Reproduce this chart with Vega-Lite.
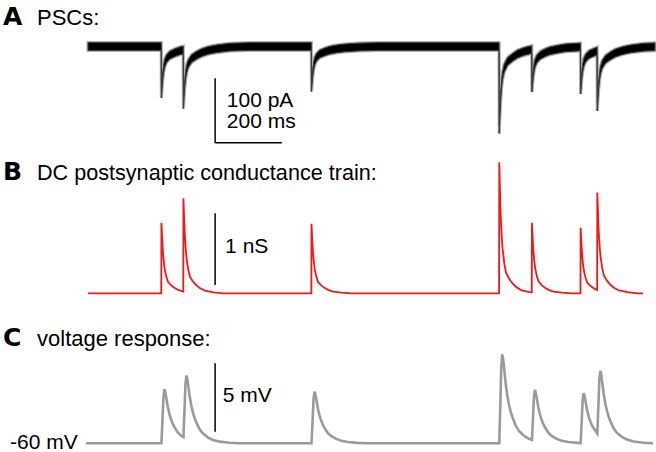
{
  "$schema": "https://vega.github.io/schema/vega-lite/v6.json",
  "padding": 0,
  "spacing": 0,
  "background": "white",
  "config": {"view": {"stroke": null}, "font": "Liberation Sans"},
  "resolve": {"scale": {"x": "independent", "y": "independent"}},
  "datasets": {
    "psc": [
      {"t":0,"lo":-6,"hi":6},{"t":219.5,"lo":-6,"hi":6},{"t":220,"lo":-80,"hi":-68},{"t":222,"lo":-65.2,"hi":-53.2},{"t":224,"lo":-51.9,"hi":-39.9},{"t":227,"lo":-39.3,"hi":-27.3},{"t":230,"lo":-31.9,"hi":-19.9},{"t":235,"lo":-25.2,"hi":-13.2},{"t":245,"lo":-19.3,"hi":-7.3},{"t":260,"lo":-15.6,"hi":-3.6},{"t":275,"lo":-12.7,"hi":-0.7},{"t":285.5,"lo":-11.5,"hi":0.5},
      {"t":286,"lo":-96.5,"hi":-84.5},{"t":288,"lo":-79.1,"hi":-67.1},{"t":290,"lo":-63.7,"hi":-51.7},{"t":293,"lo":-48.9,"hi":-36.9},{"t":296,"lo":-40.2,"hi":-28.2},{"t":301,"lo":-32.1,"hi":-20.1},{"t":311,"lo":-24.6,"hi":-12.6},{"t":326,"lo":-19.4,"hi":-7.4},{"t":341,"lo":-15.4,"hi":-3.4},{"t":361,"lo":-12,"hi":0},{"t":386,"lo":-9.5,"hi":2.5},{"t":426,"lo":-7,"hi":5},{"t":486,"lo":-6,"hi":6},{"t":669.5,"lo":-6,"hi":6},
      {"t":670,"lo":-70,"hi":-58},{"t":672,"lo":-57.2,"hi":-45.2},{"t":674,"lo":-45.7,"hi":-33.7},{"t":677,"lo":-34.8,"hi":-22.8},{"t":680,"lo":-28.4,"hi":-16.4},{"t":685,"lo":-22.6,"hi":-10.6},{"t":695,"lo":-17.5,"hi":-5.5},{"t":710,"lo":-14.3,"hi":-2.3},{"t":725,"lo":-11.8,"hi":0.2},{"t":745,"lo":-9.8,"hi":2.2},{"t":770,"lo":-8.2,"hi":3.8},{"t":810,"lo":-6.8,"hi":5.2},{"t":870,"lo":-6,"hi":6},{"t":1232.5,"lo":-6,"hi":6},
      {"t":1233,"lo":-135,"hi":-123},{"t":1235,"lo":-109.2,"hi":-97.2},{"t":1237,"lo":-86,"hi":-74},{"t":1240,"lo":-64,"hi":-52},{"t":1243,"lo":-51.2,"hi":-39.2},{"t":1248,"lo":-39.5,"hi":-27.5},{"t":1258,"lo":-29.2,"hi":-17.2},{"t":1273,"lo":-22.8,"hi":-10.8},{"t":1288,"lo":-17.6,"hi":-5.6},{"t":1308,"lo":-13.7,"hi":-1.7},{"t":1330.5,"lo":-10.8,"hi":1.2},
      {"t":1331,"lo":-70.8,"hi":-58.8},{"t":1333,"lo":-58.5,"hi":-46.5},{"t":1335,"lo":-47.6,"hi":-35.6},{"t":1338,"lo":-37.2,"hi":-25.2},{"t":1341,"lo":-31,"hi":-19},{"t":1346,"lo":-25.2,"hi":-13.2},{"t":1356,"lo":-19.6,"hi":-7.6},{"t":1371,"lo":-15.5,"hi":-3.5},{"t":1386,"lo":-12.6,"hi":-0.6},{"t":1406,"lo":-10.4,"hi":1.6},{"t":1431,"lo":-8.1,"hi":3.9},{"t":1476.5,"lo":-6.7,"hi":5.3},
      {"t":1477,"lo":-73.7,"hi":-61.7},{"t":1479,"lo":-60.2,"hi":-48.2},{"t":1481,"lo":-48.1,"hi":-36.1},{"t":1484,"lo":-36.8,"hi":-24.8},{"t":1487,"lo":-30,"hi":-18},{"t":1492,"lo":-23.9,"hi":-11.9},{"t":1502,"lo":-18.5,"hi":-6.5},{"t":1517,"lo":-15,"hi":-3},{"t":1526.5,"lo":-13,"hi":-1},
      {"t":1527,"lo":-100,"hi":-88},{"t":1529,"lo":-82.2,"hi":-70.2},{"t":1531,"lo":-66.1,"hi":-54.1},{"t":1534,"lo":-51,"hi":-39},{"t":1537,"lo":-42,"hi":-30},{"t":1542,"lo":-33.6,"hi":-21.6},{"t":1552,"lo":-25.7,"hi":-13.7},{"t":1567,"lo":-20.3,"hi":-8.3},{"t":1582,"lo":-15.9,"hi":-3.9},{"t":1602,"lo":-12.5,"hi":-0.5},{"t":1627,"lo":-9.7,"hi":2.3},{"t":1667,"lo":-7.1,"hi":4.9},{"t":1700,"lo":-6.4,"hi":5.6}
    ],
    "cond": [
      {"t":0,"g":0},{"t":219.5,"g":0},{"t":220,"g":0.985},{"t":222,"g":0.788},{"t":224,"g":0.611},{"t":227,"g":0.443},{"t":230,"g":0.335},{"t":235,"g":0.227},{"t":240,"g":0.158},{"t":250,"g":0.108},{"t":260,"g":0.074},{"t":270,"g":0.049},{"t":285.5,"g":0.025},
      {"t":286,"g":1.325},{"t":288,"g":1.064},{"t":290,"g":0.829},{"t":293,"g":0.607},{"t":296,"g":0.463},{"t":301,"g":0.318},{"t":306,"g":0.225},{"t":316,"g":0.156},{"t":326,"g":0.108},{"t":336,"g":0.072},{"t":351,"g":0.036},{"t":376,"g":0.013},{"t":406,"g":0},{"t":669.5,"g":0},
      {"t":670,"g":0.97},{"t":672,"g":0.776},{"t":674,"g":0.601},{"t":677,"g":0.437},{"t":680,"g":0.33},{"t":685,"g":0.223},{"t":690,"g":0.155},{"t":700,"g":0.107},{"t":710,"g":0.073},{"t":720,"g":0.049},{"t":735,"g":0.024},{"t":760,"g":0.01},{"t":790,"g":0},{"t":1232.5,"g":0},
      {"t":1233,"g":1.83},{"t":1235,"g":1.464},{"t":1237,"g":1.135},{"t":1240,"g":0.824},{"t":1243,"g":0.622},{"t":1248,"g":0.421},{"t":1253,"g":0.293},{"t":1263,"g":0.201},{"t":1273,"g":0.137},{"t":1283,"g":0.092},{"t":1298,"g":0.046},{"t":1323,"g":0.018},{"t":1330.5,"g":0.014},
      {"t":1331,"g":0.984},{"t":1333,"g":0.789},{"t":1335,"g":0.613},{"t":1338,"g":0.449},{"t":1341,"g":0.342},{"t":1346,"g":0.233},{"t":1351,"g":0.163},{"t":1361,"g":0.111},{"t":1371,"g":0.075},{"t":1381,"g":0.049},{"t":1396,"g":0.024},{"t":1421,"g":0.01},{"t":1451,"g":0},{"t":1476.5,"g":0},
      {"t":1477,"g":0.915},{"t":1479,"g":0.732},{"t":1481,"g":0.567},{"t":1484,"g":0.412},{"t":1487,"g":0.311},{"t":1492,"g":0.21},{"t":1497,"g":0.146},{"t":1507,"g":0.101},{"t":1517,"g":0.069},{"t":1526.5,"g":0.047},
      {"t":1527,"g":1.407},{"t":1529,"g":1.133},{"t":1531,"g":0.886},{"t":1534,"g":0.652},{"t":1537,"g":0.499},{"t":1542,"g":0.345},{"t":1547,"g":0.245},{"t":1557,"g":0.17},{"t":1567,"g":0.116},{"t":1577,"g":0.078},{"t":1592,"g":0.04},{"t":1617,"g":0.016},{"t":1647,"g":0},{"t":1664,"g":0}
    ],
    "volt": [
      {"t":-6,"v":-60},{"t":220,"v":-60},{"t":223,"v":-58.42},{"t":226,"v":-56.64},{"t":229,"v":-56.05},{"t":232,"v":-56.29},{"t":235,"v":-56.72},{"t":239,"v":-57.31},{"t":244,"v":-57.87},{"t":249,"v":-58.26},{"t":254,"v":-58.58},{"t":259,"v":-58.81},{"t":269,"v":-59.21},{"t":279,"v":-59.45},{"t":286,"v":-59.55},
      {"t":289,"v":-57.74},{"t":292,"v":-55.7},{"t":295,"v":-55.04},{"t":298,"v":-55.35},{"t":301,"v":-55.89},{"t":305,"v":-56.62},{"t":310,"v":-57.31},{"t":315,"v":-57.79},{"t":320,"v":-58.19},{"t":325,"v":-58.49},{"t":335,"v":-58.99},{"t":345,"v":-59.29},{"t":360,"v":-59.58},{"t":375,"v":-59.76},{"t":395,"v":-59.88},{"t":425,"v":-59.96},{"t":455,"v":-60},{"t":670,"v":-60},
      {"t":673,"v":-58.49},{"t":676,"v":-56.8},{"t":679,"v":-56.23},{"t":682,"v":-56.46},{"t":685,"v":-56.87},{"t":689,"v":-57.44},{"t":694,"v":-57.96},{"t":699,"v":-58.34},{"t":704,"v":-58.64},{"t":709,"v":-58.87},{"t":719,"v":-59.25},{"t":729,"v":-59.47},{"t":744,"v":-59.68},{"t":759,"v":-59.81},{"t":779,"v":-59.91},{"t":809,"v":-59.97},{"t":839,"v":-60},{"t":1233,"v":-60},
      {"t":1236,"v":-57.4},{"t":1239,"v":-54.47},{"t":1242,"v":-53.5},{"t":1245,"v":-53.89},{"t":1248,"v":-54.6},{"t":1252,"v":-55.58},{"t":1257,"v":-56.49},{"t":1262,"v":-57.14},{"t":1267,"v":-57.66},{"t":1272,"v":-58.05},{"t":1282,"v":-58.7},{"t":1292,"v":-59.09},{"t":1307,"v":-59.45},{"t":1322,"v":-59.67},{"t":1331,"v":-59.75},
      {"t":1334,"v":-58.28},{"t":1337,"v":-56.64},{"t":1340,"v":-56.1},{"t":1343,"v":-56.34},{"t":1346,"v":-56.77},{"t":1350,"v":-57.35},{"t":1355,"v":-57.89},{"t":1360,"v":-58.28},{"t":1365,"v":-58.59},{"t":1370,"v":-58.82},{"t":1380,"v":-59.22},{"t":1390,"v":-59.46},{"t":1405,"v":-59.68},{"t":1420,"v":-59.81},{"t":1440,"v":-59.91},{"t":1470,"v":-59.97},{"t":1477,"v":-59.98},
      {"t":1480,"v":-58.52},{"t":1483,"v":-56.88},{"t":1486,"v":-56.34},{"t":1489,"v":-56.57},{"t":1492,"v":-56.97},{"t":1496,"v":-57.52},{"t":1501,"v":-58.03},{"t":1506,"v":-58.39},{"t":1511,"v":-58.69},{"t":1516,"v":-58.9},{"t":1527,"v":-59.29},
      {"t":1530,"v":-57.44},{"t":1533,"v":-55.35},{"t":1536,"v":-54.7},{"t":1539,"v":-55.03},{"t":1542,"v":-55.59},{"t":1546,"v":-56.36},{"t":1551,"v":-57.1},{"t":1556,"v":-57.62},{"t":1561,"v":-58.05},{"t":1566,"v":-58.38},{"t":1576,"v":-58.9},{"t":1586,"v":-59.24},{"t":1601,"v":-59.53},{"t":1616,"v":-59.73},{"t":1636,"v":-59.87},{"t":1666,"v":-59.96},{"t":1694,"v":-60}
    ]
  },
  "vconcat": [
    {
      "width": 656,
      "height": 150,
      "encoding": {
        "x": {"field": "t", "type": "quantitative", "scale": {"domain": [-264, 1703], "nice": false, "zero": false}, "axis": null}
      },
      "layer": [
        {
          "data": {"name": "psc"},
          "mark": {"type": "area", "color": "#b0b0b0", "stroke": "#b0b0b0", "strokeWidth": 3.2},
          "encoding": {
            "y": {"field": "lo", "type": "quantitative", "scale": {"domain": [-160.7, 72.2], "nice": false, "zero": false}, "axis": null},
            "y2": {"field": "hi"}
          }
        },
        {
          "data": {"name": "psc"},
          "mark": {"type": "area", "color": "#000000", "stroke": "#3a3a3a", "strokeWidth": 1},
          "encoding": {
            "y": {"field": "lo", "type": "quantitative", "axis": null},
            "y2": {"field": "hi"}
          }
        },
        {
          "data": {"values": [{"t": 381, "t2": 381, "v": -49.4, "v2": -149.4}, {"t": 381, "t2": 581, "v": -149.4, "v2": -149.4}]},
          "mark": {"type": "rule", "color": "#000000", "strokeWidth": 1.5},
          "encoding": {"x2": {"field": "t2"}, "y": {"field": "v", "type": "quantitative", "axis": null}, "y2": {"field": "v2"}}
        },
        {
          "data": {"values": [{"t": -255, "v": 33.4, "label": "A"}]},
          "mark": {"type": "text", "align": "left", "baseline": "alphabetic", "font": "DejaVu Sans", "fontWeight": "bold", "fontSize": 25, "color": "#000000"},
          "encoding": {"y": {"field": "v", "type": "quantitative", "axis": null}, "text": {"field": "label"}}
        },
        {
          "data": {"values": [{"t": -153, "v": 33.4, "label": "PSCs:"}]},
          "mark": {"type": "text", "align": "left", "baseline": "alphabetic", "fontSize": 22, "color": "#000000"},
          "encoding": {"y": {"field": "v", "type": "quantitative", "axis": null}, "text": {"field": "label"}}
        },
        {
          "data": {"values": [{"t": 416, "v": -93.5, "label": "100 pA"}, {"t": 416, "v": -127, "label": "200 ms"}]},
          "mark": {"type": "text", "align": "left", "baseline": "alphabetic", "fontSize": 21, "color": "#000000"},
          "encoding": {"y": {"field": "v", "type": "quantitative", "axis": null}, "text": {"field": "label"}}
        }
      ]
    },
    {
      "width": 656,
      "height": 150,
      "encoding": {
        "x": {"field": "t", "type": "quantitative", "scale": {"domain": [-264, 1703], "nice": false, "zero": false}, "axis": null}
      },
      "layer": [
        {
          "data": {"name": "cond"},
          "mark": {"type": "line", "color": "#f01818", "strokeWidth": 1.8},
          "encoding": {
            "y": {"field": "g", "type": "quantitative", "scale": {"domain": [-0.093, 2.0], "nice": false, "zero": false}, "axis": null}
          }
        },
        {
          "data": {"values": [{"t": 381, "v": 0.116, "v2": 1.116}]},
          "mark": {"type": "rule", "color": "#000000", "strokeWidth": 1.5},
          "encoding": {"y": {"field": "v", "type": "quantitative", "axis": null}, "y2": {"field": "v2"}}
        },
        {
          "data": {"values": [{"t": -255, "v": 1.58, "label": "B"}]},
          "mark": {"type": "text", "align": "left", "baseline": "alphabetic", "font": "DejaVu Sans", "fontWeight": "bold", "fontSize": 25, "color": "#000000"},
          "encoding": {"y": {"field": "v", "type": "quantitative", "axis": null}, "text": {"field": "label"}}
        },
        {
          "data": {"values": [{"t": -153, "v": 1.58, "label": "DC postsynaptic conductance train:"}]},
          "mark": {"type": "text", "align": "left", "baseline": "alphabetic", "fontSize": 21.6, "color": "#000000"},
          "encoding": {"y": {"field": "v", "type": "quantitative", "axis": null}, "text": {"field": "label"}}
        },
        {
          "data": {"values": [{"t": 411, "v": 0.562, "label": "1 nS"}]},
          "mark": {"type": "text", "align": "left", "baseline": "alphabetic", "fontSize": 21, "color": "#000000"},
          "encoding": {"y": {"field": "v", "type": "quantitative", "axis": null}, "text": {"field": "label"}}
        }
      ]
    },
    {
      "width": 656,
      "height": 152,
      "encoding": {
        "x": {"field": "t", "type": "quantitative", "scale": {"domain": [-264, 1703], "nice": false, "zero": false}, "axis": null}
      },
      "layer": [
        {
          "data": {"name": "volt"},
          "mark": {"type": "line", "color": "#9a9a9a", "strokeWidth": 2.6},
          "encoding": {
            "y": {"field": "v", "type": "quantitative", "scale": {"domain": [-60.636, -49.525], "nice": false, "zero": false}, "axis": null}
          }
        },
        {
          "data": {"values": [{"t": 381, "v": -59.15, "v2": -54.15}]},
          "mark": {"type": "rule", "color": "#000000", "strokeWidth": 1.5},
          "encoding": {"y": {"field": "v", "type": "quantitative", "axis": null}, "y2": {"field": "v2"}}
        },
        {
          "data": {"values": [{"t": -255, "v": -52.89, "label": "C"}]},
          "mark": {"type": "text", "align": "left", "baseline": "alphabetic", "font": "DejaVu Sans", "fontWeight": "bold", "fontSize": 25, "color": "#000000"},
          "encoding": {"y": {"field": "v", "type": "quantitative", "axis": null}, "text": {"field": "label"}}
        },
        {
          "data": {"values": [{"t": -153, "v": -52.89, "label": "voltage response:"}]},
          "mark": {"type": "text", "align": "left", "baseline": "alphabetic", "fontSize": 22, "color": "#000000"},
          "encoding": {"y": {"field": "v", "type": "quantitative", "axis": null}, "text": {"field": "label"}}
        },
        {
          "data": {"values": [{"t": 404, "v": -56.96, "label": "5 mV"}, {"t": -234, "v": -60.43, "label": "-60 mV"}]},
          "mark": {"type": "text", "align": "left", "baseline": "alphabetic", "fontSize": 21, "color": "#000000"},
          "encoding": {"y": {"field": "v", "type": "quantitative", "axis": null}, "text": {"field": "label"}}
        }
      ]
    }
  ]
}
